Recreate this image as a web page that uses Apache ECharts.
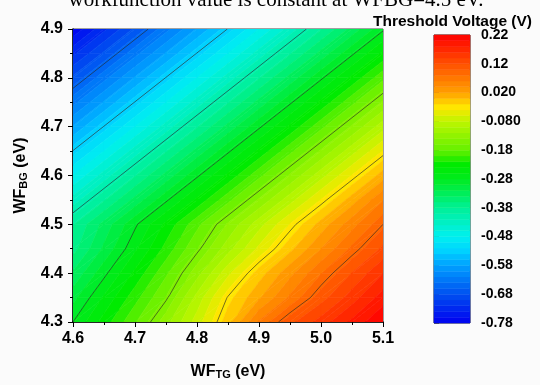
<!DOCTYPE html>
<html>
<head>
<meta charset="utf-8">
<script src="https://cdn.jsdelivr.net/npm/echarts@6/dist/echarts.min.js"></script>
<style>
html, body { margin: 0; padding: 0; background: #fbfbfb; }
#chart { width: 540px; height: 385px; }
</style>
</head>
<body>
<div id="chart"></div>
<script>
// top gate workfunction (x) and back gate workfunction (y), eV
const wfTG = [4.60, 4.65, 4.70, 4.75, 4.80, 4.85, 4.90, 4.95, 5.00, 5.05, 5.10]
const wfBG = [4.30, 4.35, 4.40, 4.45, 4.50, 4.55, 4.60, 4.65, 4.70, 4.75, 4.80, 4.85, 4.90]
// threshold voltage (V), one row per wfBG value
const vth = [
  [-0.280, -0.231, -0.182, -0.128, -0.070, -0.008, 0.063, 0.114, 0.149, 0.185, 0.220],
  [-0.307, -0.257, -0.208, -0.159, -0.093, -0.028, 0.017, 0.064, 0.111, 0.150, 0.190],
  [-0.337, -0.286, -0.235, -0.184, -0.128, -0.065, -0.010, 0.034, 0.079, 0.121, 0.160],
  [-0.368, -0.316, -0.264, -0.213, -0.161, -0.108, -0.055, -0.006, 0.040, 0.085, 0.125],
  [-0.382, -0.333, -0.284, -0.235, -0.186, -0.137, -0.088, -0.039, 0.008, 0.052, 0.095],
  [-0.431, -0.382, -0.333, -0.284, -0.235, -0.186, -0.137, -0.088, -0.039, 0.010, 0.059],
  [-0.480, -0.431, -0.382, -0.333, -0.284, -0.235, -0.186, -0.137, -0.088, -0.039, 0.010],
  [-0.529, -0.480, -0.431, -0.382, -0.333, -0.284, -0.235, -0.186, -0.137, -0.088, -0.039],
  [-0.578, -0.529, -0.480, -0.431, -0.382, -0.333, -0.284, -0.235, -0.186, -0.137, -0.088],
  [-0.627, -0.578, -0.529, -0.480, -0.431, -0.382, -0.333, -0.284, -0.235, -0.186, -0.137],
  [-0.676, -0.627, -0.578, -0.529, -0.480, -0.431, -0.382, -0.333, -0.284, -0.235, -0.186],
  [-0.725, -0.676, -0.627, -0.578, -0.529, -0.480, -0.431, -0.382, -0.333, -0.284, -0.235],
  [-0.776, -0.725, -0.676, -0.627, -0.578, -0.529, -0.480, -0.431, -0.382, -0.333, -0.284]
]
const contourLevels = [-0.655, -0.53, -0.405, -0.28, -0.155, -0.03, 0.095]
const barLabels = ['0.22', '0.12', '0.020', '-0.080', '-0.18', '-0.28', '-0.38', '-0.48', '-0.58', '-0.68', '-0.78']

const vMin = -0.78
const vMax = 0.22
const nBands = 50
const step = (vMax - vMin) / nBands
const font = 'Liberation Sans, Arial, sans-serif'

// rainbow palette
const palette = [
  [-0.78, [0, 0, 240]], [-0.68, [0, 80, 240]], [-0.58, [0, 160, 255]], [-0.53, [0, 210, 255]],
  [-0.48, [0, 240, 240]], [-0.38, [0, 240, 150]], [-0.28, [0, 235, 30]], [-0.23, [0, 235, 0]],
  [-0.18, [100, 240, 0]], [-0.08, [190, 245, 0]], [-0.03, [255, 230, 0]], [0.02, [255, 160, 0]],
  [0.12, [255, 80, 0]], [0.22, [255, 0, 0]]
]
function colorAt(v) {
  if (v <= palette[0][0]) return 'rgb(' + palette[0][1].join(',') + ')'
  for (let i = 1; i < palette.length; i++) {
    if (v <= palette[i][0]) {
      const a = palette[i - 1], b = palette[i]
      const t = (v - a[0]) / (b[0] - a[0])
      const c = a[1].map((x, k) => Math.round(x + t * (b[1][k] - x)))
      return 'rgb(' + c.join(',') + ')'
    }
  }
  return 'rgb(' + palette[palette.length - 1][1].join(',') + ')'
}
function bandColor(k) {
  return colorAt(vMin + (k + 0.5) * step)
}

// cut a polygon [x, y, z] at level lv
function clip(poly, lv, above) {
  const out = []
  for (let i = 0; i < poly.length; i++) {
    const a = poly[i], b = poly[(i + 1) % poly.length]
    const ina = above ? a[2] >= lv : a[2] <= lv
    const inb = above ? b[2] >= lv : b[2] <= lv
    if (ina) out.push(a)
    if (ina !== inb) {
      const t = (lv - a[2]) / (b[2] - a[2])
      out.push([a[0] + t * (b[0] - a[0]), a[1] + t * (b[1] - a[1]), lv])
    }
  }
  return out
}

const cells = []
for (let j = 0; j < wfBG.length - 1; j++) {
  for (let i = 0; i < wfTG.length - 1; i++) {
    cells.push([wfTG[i], wfBG[j], i, j])
  }
}
function triangles(i, j) {
  const p = (a, b) => [wfTG[a], wfBG[b], vth[b][a]]
  return [
    [p(i, j), p(i + 1, j), p(i + 1, j + 1)],
    [p(i, j), p(i + 1, j + 1), p(i, j + 1)]
  ]
}

function renderFill(params, api) {
  const c = cells[params.dataIndex]
  const children = []
  triangles(c[2], c[3]).forEach(tri => {
    const zs = tri.map(p => p[2])
    let k0 = Math.floor((Math.min(...zs) - vMin) / step)
    let k1 = Math.floor((Math.max(...zs) - vMin) / step)
    k0 = Math.max(0, Math.min(nBands - 1, k0))
    k1 = Math.max(0, Math.min(nBands - 1, k1))
    for (let k = k0; k <= k1; k++) {
      const lo = k === 0 ? -Infinity : vMin + k * step
      const hi = k === nBands - 1 ? Infinity : vMin + (k + 1) * step
      const poly = clip(clip(tri, lo, true), hi, false)
      if (poly.length < 3) continue
      const col = bandColor(k)
      children.push({
        type: 'polygon',
        shape: { points: poly.map(p => api.coord([p[0], p[1]])) },
        style: { fill: col, stroke: col, lineWidth: 0.6 }
      })
    }
  })
  return { type: 'group', children: children }
}

function renderLines(params, api) {
  const c = cells[params.dataIndex]
  const children = []
  triangles(c[2], c[3]).forEach(tri => {
    contourLevels.forEach(lv => {
      const pts = []
      for (let e = 0; e < 3 && pts.length < 2; e++) {
        const a = tri[e], b = tri[(e + 1) % 3]
        if ((a[2] >= lv) !== (b[2] >= lv)) {
          const t = (lv - a[2]) / (b[2] - a[2])
          pts.push(api.coord([a[0] + t * (b[0] - a[0]), a[1] + t * (b[1] - a[1])]))
        }
      }
      if (pts.length === 2) {
        children.push({
          type: 'line',
          shape: { x1: pts[0][0], y1: pts[0][1], x2: pts[1][0], y2: pts[1][1] },
          style: { stroke: 'rgba(40,40,40,0.8)', lineWidth: 0.8 }
        })
      }
    })
  })
  return { type: 'group', children: children }
}

function renderBar(params, api) {
  const k = params.dataIndex
  const p0 = api.coord([0, k + 1])
  const p1 = api.coord([1, k])
  return {
    type: 'rect',
    shape: { x: p0[0], y: p0[1], width: p1[0] - p0[0], height: p1[1] - p0[1] },
    style: { fill: bandColor(k), stroke: bandColor(k), lineWidth: 0.5 }
  }
}
const bands = []
for (let k = 0; k < nBands; k++) bands.push([0, k])

const nameRich = {
  m: { fontSize: 16, fontWeight: 'bold', fontFamily: font, color: '#000', lineHeight: 20, verticalAlign: 'bottom' },
  s: { fontSize: 11, fontWeight: 'bold', fontFamily: font, color: '#000', lineHeight: 10, verticalAlign: 'bottom' }
}
const tickLabel = { fontSize: 16, fontWeight: 'bold', fontFamily: font, color: '#000' }

const chart = echarts.init(document.getElementById('chart'), null, { renderer: 'canvas' })
chart.setOption({
  backgroundColor: '#fbfbfb',
  animation: false,
  title: {
    text: 'Threshold Voltage (V)',
    left: 368,
    top: 9,
    textStyle: { fontSize: 15.5, fontWeight: 'bold', fontFamily: font, color: '#000' }
  },
  graphic: [{
    type: 'text',
    x: 276,
    y: 0,
    style: {
      text: 'workfunction value is constant at WFBG=4.5 eV.',
      fontSize: 21,
      fontFamily: 'Liberation Serif, Times New Roman, serif',
      fill: '#000',
      align: 'center',
      verticalAlign: 'middle'
    }
  }],
  grid: [
    { left: 73, top: 29, width: 310, height: 296, show: true, borderColor: '#444', borderWidth: 1, backgroundColor: 'transparent' },
    { left: 434, top: 35, width: 36, height: 288, show: true, borderColor: '#222', borderWidth: 1, backgroundColor: 'transparent' }
  ],
  xAxis: [{
    gridIndex: 0,
    type: 'value',
    min: 4.6,
    max: 5.1,
    interval: 0.1,
    axisLine: { lineStyle: { color: '#000', width: 1.5 } },
    axisTick: { length: 5, lineStyle: { color: '#000' } },
    minorTick: { show: true, splitNumber: 2, length: 3, lineStyle: { color: '#000' } },
    splitLine: { show: false },
    axisLabel: Object.assign({ margin: 9, formatter: v => v.toFixed(1) }, tickLabel),
    name: '{m|WF}{s|TG}{m| (eV)}',
    nameLocation: 'middle',
    nameGap: 38,
    nameTextStyle: { rich: nameRich }
  }, {
    gridIndex: 1,
    type: 'value',
    min: 0,
    max: 1,
    show: false
  }],
  yAxis: [{
    gridIndex: 0,
    type: 'value',
    min: 4.3,
    max: 4.9,
    interval: 0.1,
    axisLine: { lineStyle: { color: '#000', width: 1.5 } },
    axisTick: { length: 5, lineStyle: { color: '#000' } },
    minorTick: { show: true, splitNumber: 2, length: 3, lineStyle: { color: '#000' } },
    splitLine: { show: false },
    axisLabel: Object.assign({ margin: 10, formatter: v => v.toFixed(1) }, tickLabel),
    name: '{m|WF}{s|BG}{m| (eV)}',
    nameLocation: 'middle',
    nameGap: 44,
    nameRotate: 90,
    nameTextStyle: { rich: nameRich }
  }, {
    gridIndex: 1,
    type: 'value',
    position: 'right',
    min: 0,
    max: nBands,
    interval: 5,
    axisLine: { show: false },
    axisTick: { show: true, length: 5, lineStyle: { color: '#555' } },
    splitLine: { show: false },
    axisLabel: {
      margin: 11,
      fontSize: 14,
      fontWeight: 'bold',
      fontFamily: font,
      color: '#000',
      formatter: v => barLabels[Math.round((nBands - v) / 5)]
    }
  }],
  series: [{
    type: 'custom',
    xAxisIndex: 0,
    yAxisIndex: 0,
    data: cells,
    encode: { x: 0, y: 1 },
    renderItem: renderFill,
    clip: true,
    z: 1
  }, {
    type: 'custom',
    xAxisIndex: 0,
    yAxisIndex: 0,
    data: cells,
    encode: { x: 0, y: 1 },
    renderItem: renderLines,
    clip: true,
    z: 2
  }, {
    type: 'custom',
    xAxisIndex: 1,
    yAxisIndex: 1,
    data: bands,
    encode: { x: 0, y: 1 },
    renderItem: renderBar,
    z: 1
  }]
})
</script>
</body>
</html>
